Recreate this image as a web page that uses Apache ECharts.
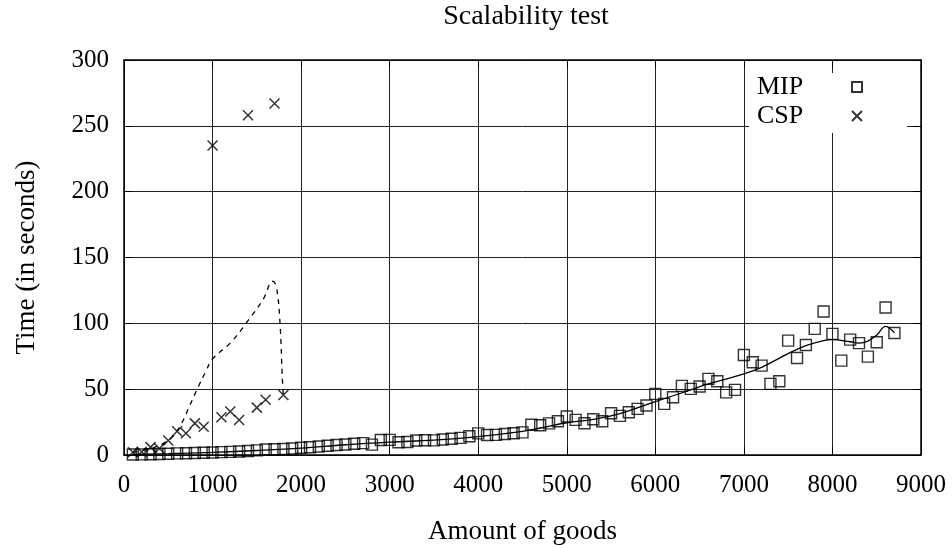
<!DOCTYPE html>
<html><head><meta charset="utf-8">
<script src="https://cdn.jsdelivr.net/npm/echarts@6/dist/echarts.min.js"></script>
<style>html,body{margin:0;padding:0;background:#fff}#c{width:952px;height:545px}</style>
</head><body><div id="c"></div>
<script>
const xTicks = [0,1000,2000,3000,4000,5000,6000,7000,8000,9000];
const mipX = [];
for (let i = 1; i <= 87; i++) mipX.push(i * 100);
const mipY = [0.4,0.5,0.6,0.8,1.0,1.2,1.3,1.5,1.7,1.9,
  2.2,2.4,2.7,3.0,3.5,4.2,4.4,4.6,4.9,5.5,
  5.9,6.5,7.0,7.6,8.0,8.5,9.0,7.9,11.4,11.5,
  9.7,9.9,11.0,11.2,11.1,11.8,12.3,13.0,14.2,16.4,
  15.2,15.3,16.0,16.5,17.2,23.0,22.6,24.0,25.6,29.2,
  26.7,24.1,27.2,25.6,31.7,29.7,32.5,35.0,37.6,46.4,
  38.8,43.9,52.5,50.2,52.0,57.8,56.0,47.6,49.5,76.0,
  70.4,67.9,54.0,56.0,86.9,73.7,83.6,95.8,109.0,92.0,
  71.7,87.6,85.0,74.7,85.6,112.0,92.7];
const cspX = [100,200,300,400,500,600,700,800,900,1000,1100,1200,1300,1400,1500,1600,1700,1800];
const cspY = [2.1,2.5,6.0,5.0,11.0,18.0,16.5,24.0,21.5,235.0,28.6,33.0,26.6,258.0,36.0,42.0,267.0,45.5];
const mipCurveX = [100,500,1000,1500,2000,2500,3000,3500,4000,4500,4700,5000,5300,5600,6000,6400,6600,7000,7200,7500,7700,7900,8000,8200,8300,8400,8500,8600,8700];
const mipCurveY = [0.5,1.0,2.0,3.4,5.2,7.8,9.8,11.3,14.0,18.0,20.5,24.5,27.0,31.5,40.5,49.5,54.0,61.6,66.6,77.0,83.0,86.9,87.6,86.0,85.0,86.5,91.0,97.7,92.7];
const cspCurveX = [100,300,450,550,650,745,840,920,1000,1200,1400,1570,1680,1720,1760,1790,1800];
const cspCurveY = [2.0,5.0,9.0,14.0,24.0,38.0,52.0,63.0,73.0,85.0,102.0,118.0,132.0,128.0,102.0,55.0,45.0];

const zip = (a, b) => a.map((v, i) => [v, b[i]]);
const FONT = "'Liberation Serif','DejaVu Serif',serif";
const chart = echarts.init(document.getElementById('c'), null, {renderer: 'canvas'});
const tick = {show: true, inside: true, length: 8, lineStyle: {color: '#000', width: 1}};
const split = {show: true, lineStyle: {color: '#222', width: 1}};
chart.setOption({
  animation: false,
  backgroundColor: '#fff',
  title: {text: 'Scalability test', left: 521, top: -2, textAlign: 'center',
    textStyle: {fontFamily: FONT, fontSize: 28, fontWeight: 'normal', color: '#000'}},
  grid: {left: 124, right: 31, top: 60, bottom: 90, show: false, containLabel: false, outerBoundsMode: 'none'},
  legend: {
    data: ['MIP', 'CSP'], orient: 'vertical', right: 45, top: 73, align: 'right',
    backgroundColor: '#fff', padding: [1, 44, 4, 8], itemGap: 3,
    itemWidth: 10, itemHeight: 10,
    formatter: '{t|{name}}',
    textStyle: {fontFamily: FONT, fontSize: 26, color: '#000',
      rich: {t: {fontFamily: FONT, fontSize: 26, color: '#000', width: 90, align: 'left'}}}
  },
  xAxis: [{
    type: 'value', min: 0, max: 9000, interval: 1000,
    name: 'Amount of goods', nameLocation: 'middle', nameGap: 63,
    nameTextStyle: {fontFamily: FONT, fontSize: 27, color: '#000'},
    axisLine: {show: true, onZero: false, lineStyle: {color: '#000', width: 1.5}},
    axisTick: tick, splitLine: split,
    axisLabel: {fontFamily: FONT, fontSize: 25, color: '#000', margin: 18,
      formatter: v => xTicks.includes(v) ? String(v) : ''}
  }, {
    type: 'value', position: 'top', min: 0, max: 9000, interval: 1000,
    axisLine: {show: true, onZero: false, lineStyle: {color: '#000', width: 1.5}},
    axisTick: tick, splitLine: {show: false}, axisLabel: {show: false}
  }],
  yAxis: [{
    type: 'value', min: 0, max: 300, interval: 50,
    name: 'Time (in seconds)', nameLocation: 'middle', nameGap: 84, nameRotate: 90,
    nameTextStyle: {fontFamily: FONT, fontSize: 27, color: '#000'},
    axisLine: {show: true, onZero: false, lineStyle: {color: '#000', width: 1.5}},
    axisTick: tick, splitLine: split,
    axisLabel: {fontFamily: FONT, fontSize: 25, color: '#000', margin: 15}
  }, {
    type: 'value', position: 'right', min: 0, max: 300, interval: 50,
    axisLine: {show: true, onZero: false, lineStyle: {color: '#000', width: 1.5}},
    axisTick: tick, splitLine: {show: false}, axisLabel: {show: false}
  }],
  series: [
    {name: 'MIP fit', type: 'line', data: zip(mipCurveX, mipCurveY), smooth: 0.4,
      showSymbol: false, lineStyle: {color: '#000', width: 1.3}, z: 3, silent: true},
    {name: 'CSP fit', type: 'line', data: zip(cspCurveX, cspCurveY), smooth: 0.4,
      showSymbol: false, lineStyle: {color: '#000', width: 1.3, type: [5, 5]}, z: 3, silent: true},
    {name: 'MIP', type: 'scatter', data: zip(mipX, mipY), symbol: 'rect', symbolSize: 11,
      itemStyle: {color: 'rgba(0,0,0,0)', borderColor: '#000', borderWidth: 1.4}, z: 4},
    {name: 'CSP', type: 'scatter', data: zip(cspX, cspY),
      symbol: 'path://M0,0L10,10M10,0L0,10', symbolSize: 10,
      itemStyle: {color: 'rgba(0,0,0,0)', borderColor: '#000', borderWidth: 1.5}, z: 4}
  ]
});
</script></body></html>
